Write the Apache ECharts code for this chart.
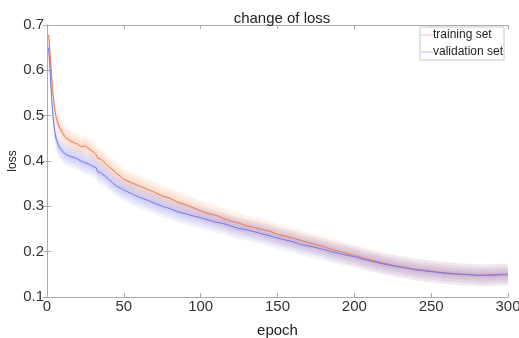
<!DOCTYPE html>
<html>
<head>
<meta charset="utf-8">
<script src="https://cdn.jsdelivr.net/npm/echarts@6/dist/echarts.min.js"></script>
<style>
  html, body { margin: 0; padding: 0; background: #fff; }
  #chart { width: 519px; height: 338px; }
</style>
</head>
<body>
<div id="chart"></div>
<script>
const epochs = [1, 2, 3, 4, 5, 6, 8, 10, 12, 15, 18, 20, 22, 25, 28, 30, 32, 33, 35, 38, 40, 43, 45, 48, 50,
  55, 60, 65, 70, 75, 80, 85, 90, 95, 100, 105, 110, 115, 120, 125, 130, 135, 140, 145, 150,
  155, 160, 165, 170, 175, 180, 185, 190, 195, 200, 205, 210, 215, 220, 225, 230, 235, 240,
  245, 250, 255, 260, 265, 270, 275, 280, 285, 290, 295, 300]

const trainLoss = [0.678, 0.640, 0.585, 0.545, 0.515, 0.495, 0.475, 0.462, 0.452, 0.445, 0.440, 0.437, 0.432, 0.433, 0.425, 0.420, 0.414, 0.406, 0.404, 0.395, 0.388, 0.380, 0.373, 0.366, 0.360,
  0.352, 0.345, 0.338, 0.331, 0.323, 0.318, 0.309, 0.304, 0.297, 0.290, 0.284, 0.280, 0.273, 0.267, 0.263, 0.257, 0.253, 0.249, 0.245, 0.238,
  0.234, 0.230, 0.225, 0.220, 0.216, 0.211, 0.205, 0.201, 0.196, 0.192, 0.187, 0.182, 0.178, 0.174, 0.170, 0.167, 0.164, 0.161,
  0.159, 0.157, 0.155, 0.153, 0.152, 0.150, 0.150, 0.148, 0.148, 0.149, 0.150, 0.150]

const valLoss = [0.650, 0.600, 0.540, 0.495, 0.465, 0.448, 0.430, 0.422, 0.415, 0.410, 0.407, 0.404, 0.400, 0.396, 0.392, 0.388, 0.385, 0.376, 0.374, 0.366, 0.360, 0.351, 0.345, 0.340, 0.336,
  0.328, 0.320, 0.314, 0.307, 0.300, 0.295, 0.288, 0.284, 0.279, 0.275, 0.270, 0.265, 0.262, 0.256, 0.251, 0.248, 0.244, 0.239, 0.235, 0.230,
  0.226, 0.222, 0.216, 0.213, 0.209, 0.205, 0.200, 0.196, 0.192, 0.189, 0.184, 0.180, 0.176, 0.172, 0.169, 0.166, 0.163, 0.160,
  0.158, 0.156, 0.154, 0.152, 0.151, 0.150, 0.149, 0.148, 0.148, 0.148, 0.149, 0.149]

const xTicks = [0, 50, 100, 150, 200, 250, 300]
const yTicks = [0.1, 0.2, 0.3, 0.4, 0.5, 0.6, 0.7]

const orange = '#e77a55'
const blue = '#7676ea'
const font = 'Liberation Sans, Arial, sans-serif'

// soft shaded band: a few nested translucent layers
const bandSteps = [0.006, 0.012, 0.018, 0.024]

function bandSeries (values, color) {
  return bandSteps.map(w => ({
    type: 'custom', silent: true, clip: true,
    data: epochs.map((e, i) => [e, values[i]]),
    renderItem: (params, api) => {
      if (params.dataIndex !== 0) return null
      const upper = epochs.map((e, i) => api.coord([e, values[i] + w]))
      const lower = epochs.map((e, i) => api.coord([e, values[i] - w])).reverse()
      return {
        type: 'polygon',
        shape: { points: upper.concat(lower) },
        style: { fill: color, opacity: 0.1 }
      }
    }
  }))
}

const chart = echarts.init(document.getElementById('chart'))

const axisBase = {
  axisLine: { show: true, lineStyle: { color: '#ababab', width: 1 } },
  axisTick: { show: true, inside: true, length: 4, lineStyle: { color: '#ababab' } },
  splitLine: { show: false }
}

chart.setOption({
  animation: false,
  backgroundColor: '#fff',
  title: {
    text: 'change of loss',
    left: 277, top: 6, textAlign: 'center',
    textStyle: { fontFamily: font, fontSize: 15, fontWeight: 'normal', color: '#222' }
  },
  legend: {
    orient: 'vertical', right: 15, top: 27,
    itemWidth: 12, itemHeight: 1, itemGap: 1,
    padding: [0, 1, 0, 1],
    borderColor: '#c8c8c8', borderWidth: 1, backgroundColor: '#fff',
    textStyle: { fontFamily: font, fontSize: 12, color: '#222', lineHeight: 16, padding: [0, 0, 0, -5] },
    data: [
      { name: 'training set', icon: 'rect', itemStyle: { color: '#f0bcc6' } },
      { name: 'validation set', icon: 'rect', itemStyle: { color: '#bcbcf0' } }
    ]
  },
  grid: { left: 47, right: 11, top: 25, bottom: 41, containLabel: false, outerBoundsMode: 'none' },
  xAxis: [
    Object.assign({}, axisBase, {
      type: 'value', min: 0, max: 300, interval: 50,
      name: 'epoch', nameLocation: 'middle', nameGap: 26, nameMoveOverlap: false,
      nameTextStyle: { fontFamily: font, fontSize: 15, color: '#222' },
      axisLabel: { fontFamily: font, fontSize: 15, color: '#333', margin: 2,
        formatter: v => xTicks.includes(v) ? String(v) : '' }
    }),
    Object.assign({}, axisBase, {
      type: 'value', min: 0, max: 300, interval: 50, position: 'top',
      axisLabel: { show: false }
    })
  ],
  yAxis: [
    Object.assign({}, axisBase, {
      type: 'value', min: 0.1, max: 0.7, interval: 0.1,
      name: 'loss', nameLocation: 'middle', nameGap: 28, nameMoveOverlap: false,
      nameTextStyle: { fontFamily: font, fontSize: 12, color: '#222' },
      axisLabel: { fontFamily: font, fontSize: 15, color: '#333', margin: 3,
        formatter: v => {
          const t = yTicks.find(y => Math.abs(y - v) < 1e-6)
          return t !== undefined ? t.toFixed(1) : ''
        } }
    }),
    Object.assign({}, axisBase, {
      type: 'value', min: 0.1, max: 0.7, interval: 0.1, position: 'right',
      axisLabel: { show: false }
    })
  ],
  series: [
    ...bandSeries(trainLoss, '#f6a068'),
    ...bandSeries(valLoss, '#8484f0'),
    {
      name: 'training set', type: 'line', symbol: 'none',
      lineStyle: { color: orange, width: 1 },
      data: epochs.map((e, i) => [e, trainLoss[i]])
    },
    {
      name: 'validation set', type: 'line', symbol: 'none',
      lineStyle: { color: blue, width: 1 },
      data: epochs.map((e, i) => [e, valLoss[i]])
    }
  ]
})
</script>
</body>
</html>
